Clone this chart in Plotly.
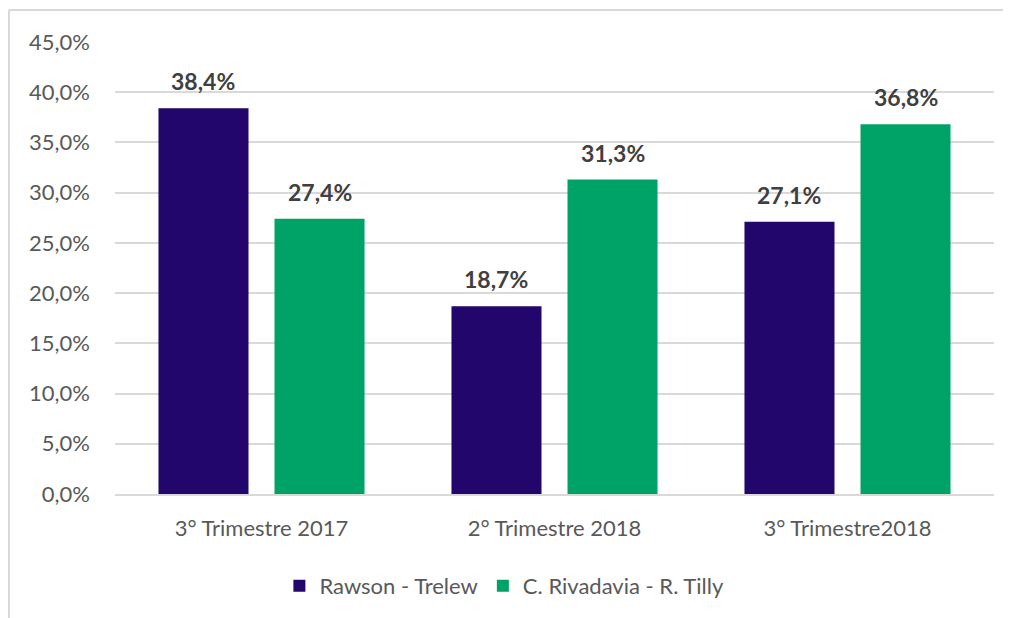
import plotly.graph_objects as go

categories = ["3° Trimestre 2017", "2° Trimestre 2018", "3° Trimestre2018"]
rawson_trelew = [0.384, 0.187, 0.271]
rivadavia_tilly = [0.274, 0.313, 0.368]
series_names = ["Rawson - Trelew", "C. Rivadavia - R. Tilly"]
colors = ["#22066B", "#00A367"]

def fmt(v):
    return f"{v*100:.1f}%".replace(".", ",")

FONT = "Lato, 'Open Sans', sans-serif"
W, H = 1003, 610          # page body has an 8px margin
ML, MR, MT, MB = 107, 17, 34, 123
PW = W - ML - MR
PH = H - MT - MB
BARGAP, GROUPGAP = 0.208, 0.224

fig = go.Figure()
for name, vals, col in zip(series_names, [rawson_trelew, rivadavia_tilly], colors):
    fig.add_trace(go.Bar(
        x=categories, y=vals, name=name,
        marker=dict(color=col, line=dict(width=0)),
        hoverinfo="x+y+name",
    ))

# bar value labels as annotations, offset to each bar of the group
slot = (1 - BARGAP) / 2   # category units per bar slot
annotations = []
for i, vals in enumerate([rawson_trelew, rivadavia_tilly]):
    off = (i - 0.5) * slot
    for j, v in enumerate(vals):
        annotations.append(dict(
            x=j + off, y=v, xref="x", yref="y", text=f"<b>{fmt(v)}</b>",
            showarrow=False, yanchor="bottom", yshift=11,
            font=dict(family=FONT, size=23, color="#404040"),
        ))

fig.update_layout(
    width=W, height=H,
    margin=dict(l=ML, r=MR, t=MT, b=MB),
    paper_bgcolor="white", plot_bgcolor="white",
    barmode="group", bargap=BARGAP, bargroupgap=GROUPGAP,
    separators=",.",
    font=dict(family=FONT, size=22, color="#595959"),
    showlegend=True,
    legend=dict(orientation="h", x=0.443, xanchor="center",
                y=-(578 - (H - MB)) / PH, yanchor="middle",
                font=dict(family=FONT, size=22, color="#595959"),
                itemwidth=30, tracegroupgap=0),
    yaxis=dict(range=[0, 0.45], dtick=0.05, tickformat=".1%",
               gridcolor="#D9D9D9", gridwidth=2, zeroline=False,
               showline=False, ticks="", ticklabelstandoff=24,
               tickfont=dict(family=FONT, size=22, color="#595959")),
    xaxis=dict(showline=True, linecolor="#D9D9D9", linewidth=2, ticks="",
               ticklabelstandoff=14,
               tickfont=dict(family=FONT, size=22, color="#595959")),
    annotations=annotations,
    shapes=[
        dict(type="line", xref="paper", yref="paper",
             x0=(1 - ML) / PW, x1=1.05, y0=(H - MB - 2) / PH, y1=(H - MB - 2) / PH,
             line=dict(color="#D9D9D9", width=2)),
        dict(type="line", xref="paper", yref="paper",
             x0=(1 - ML) / PW, x1=(1 - ML) / PW, y0=(H - MB - 2) / PH, y1=-0.4,
             line=dict(color="#D9D9D9", width=2)),
    ],
)

fig.write_html("out.html")
